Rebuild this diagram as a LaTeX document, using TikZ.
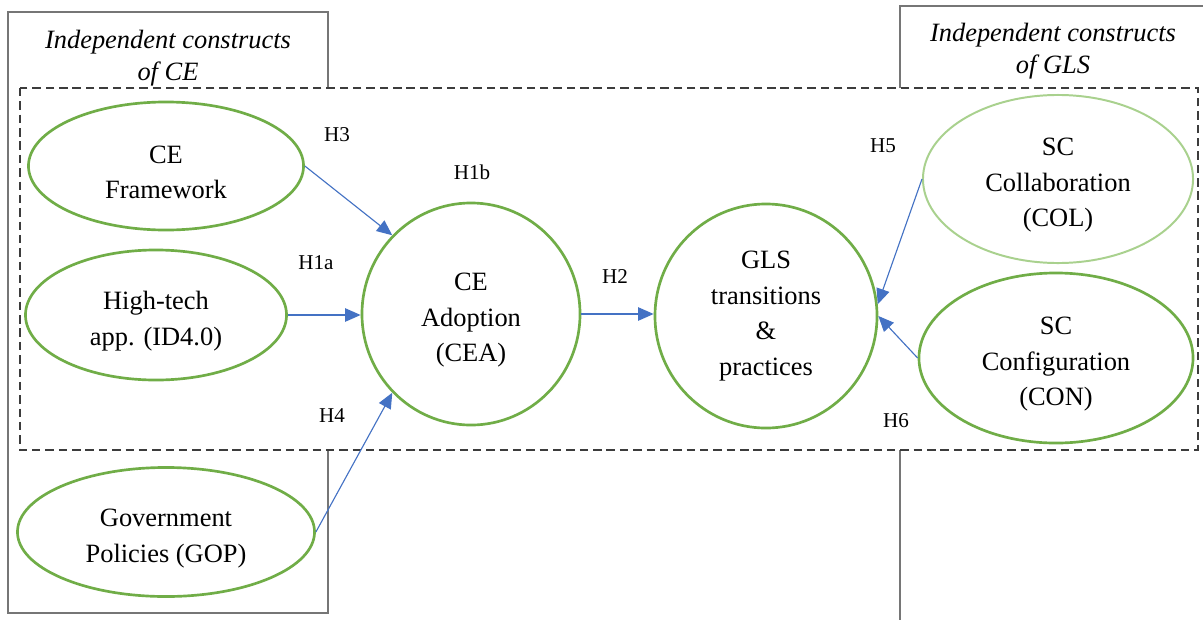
\documentclass[tikz,border=0pt]{standalone}
\usepackage{fontspec}
\setmainfont{Liberation Serif}
\usepackage{tikz}
\usetikzlibrary{shapes.geometric,arrows.meta}
\definecolor{ConGreen}{RGB}{112,173,71}
\definecolor{LightGreen}{RGB}{169,209,142}
\definecolor{LinkBlue}{RGB}{68,114,196}
\definecolor{BoxGray}{RGB}{118,118,118}
\definecolor{DashGray}{RGB}{60,60,60}
\newcommand{\lowstrut}{\rule{0pt}{21.5pt}}
\tikzset{
	cst/.style={ellipse,draw=ConGreen,line width=1.9pt,fill=white,inner sep=0pt,
		align=center,font=\fontsize{18.8}{25.2}\selectfont},
	hyp/.style={inner sep=0pt,font=\fontsize{15}{18}\selectfont},
	link/.style={draw=LinkBlue,line width=0.8pt,-{Triangle[length=11pt,width=9.5pt]}},
	group/.style={draw=BoxGray,line width=1pt},
	scope box/.style={draw=DashGray,line width=1pt,dash pattern=on 6pt off 3.5pt,fill=white},
	title/.style={align=center,font=\fontsize{18.8}{22.5}\selectfont\itshape},
}
\begin{document}
\begin{tikzpicture}[x=0.025cm,y=-0.025cm]
	\clip (0,0) rectangle (1203,619);
	\draw[group] (8,12) rectangle (328,613);
	\draw[group] (900,6) rectangle (1240,660);
	\node[title] (tce) at (168,58) {Independent constructs\\of CE};
	\node[title] (tgls) at (1053,51) {Independent constructs\\of GLS};
	\draw[scope box] (20,88) rectangle (1198,450);
	\node[cst,minimum width=6.875cm,minimum height=3.2cm] (fw) at (166,166) {\lowstrut CE\\Framework};
	\node[cst,minimum width=6.525cm,minimum height=3.25cm] (ht) at (156,315) {\lowstrut High-tech\\app. (ID4.0)};
	\node[cst,minimum width=7.425cm,minimum height=3.225cm] (gop) at (166,532) {\lowstrut Government\\Policies (GOP)};
	\node[cst,minimum width=5.45cm,minimum height=5.55cm] (cea) at (471,314) {\lowstrut CE\\Adoption\\(CEA)};
	\node[cst,minimum width=5.55cm,minimum height=5.6cm] (gls) at (766,316) {GLS\\transitions\\\&\\practices};
	\node[cst,draw=LightGreen,line width=1.4pt,minimum width=6.75cm,minimum height=4.2cm] (col) at (1058,179) {\lowstrut SC\\Collaboration\\(COL)};
	\node[cst,minimum width=6.85cm,minimum height=4.25cm] (con) at (1056,358) {\lowstrut SC\\Configuration\\(CON)};
	\draw[link] (fw.east) -- (cea.135);
	\draw[link] (ht.east) -- (ht.east -| cea.west);
	\draw[link] (gop.east) -- (cea.225);
	\draw[link] (cea.east) -- (cea.east -| gls.west);
	\draw[link] (col.west) -- (gls.6);
	\draw[link] (con.west) -- (gls.east);
	\node[hyp] (h3) at (337,135) {H3};
	\node[hyp] (h1b) at (472,172) {H1b};
	\node[hyp] (h1a) at (316,263) {H1a};
	\node[hyp] (h2) at (615,277) {H2};
	\node[hyp] (h4) at (332,416) {H4};
	\node[hyp] (h5) at (883,146) {H5};
	\node[hyp] (h6) at (896,421) {H6};
\end{tikzpicture}
\end{document}
